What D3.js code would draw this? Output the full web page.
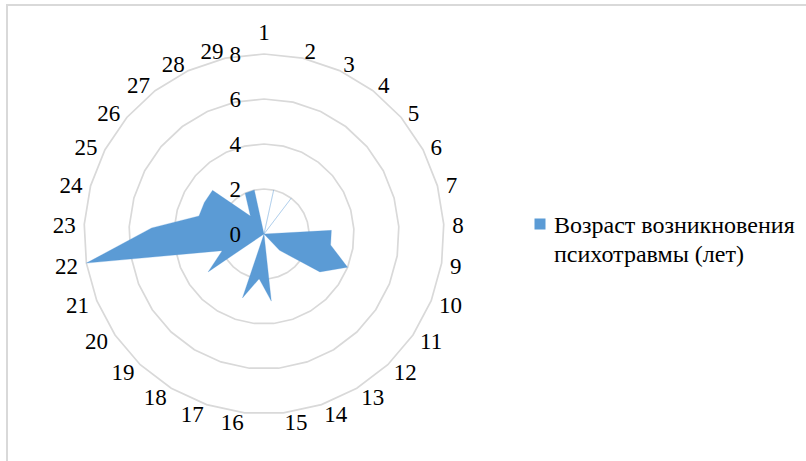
<!DOCTYPE html>
<html>
<head>
<meta charset="utf-8">
<script src="https://cdn.jsdelivr.net/npm/d3@7"></script>
<style>
  html, body { margin: 0; padding: 0; background: #fff; }
  svg { display: block; }
</style>
</head>
<body>
<svg id="chart" width="806" height="461" font-family="'Liberation Serif', 'Times New Roman', Tinos, 'DejaVu Serif', serif"></svg>
<script>
// Radar chart: age at which the psychological trauma occurred, per respondent
const categories = ["1","2","3","4","5","6","7","8","9","10","11","12","13","14","15",
                    "16","17","18","19","20","21","22","23","24","25","26","27","28","29"];
const values = [0,2,0,2,0,0,0,3,3,4,3,1,0,0,3,2,3,0,0,3,2,8,5,3,3,3,1,2,2];
const radialTicks = [0,2,4,6,8];
const legendLines = ["Возраст возникновения", "психотравмы (лет)"];

const svg = d3.select("#chart");
const W = 806, H = 461;
const cx = 264, cy = 234, R = 180;
const fontSize = 23;
const serif = "'Liberation Serif', 'Times New Roman', Tinos, 'DejaVu Serif', serif";
const fillColor = "#5B9BD5";
const gridColor = "#D9D9D9";

// Outer chart frame (runs off the right and bottom edges)
svg.append("rect")
  .attr("x", 7).attr("y", 5)
  .attr("width", W + 20).attr("height", H + 20)
  .attr("fill", "none").attr("stroke", gridColor).attr("stroke-width", 2);

const r = d3.scaleLinear().domain([0, 8]).range([0, R]);
const step = 2 * Math.PI / categories.length;
const ang = c => categories.indexOf(c) * step;

const g = svg.append("g").attr("transform", `translate(${cx},${cy})`);

// Polygonal gridlines, one per radial tick
const ringLine = d3.lineRadial().curve(d3.curveLinearClosed)
  .angle(c => ang(c));
radialTicks.filter(t => t > 0).forEach(t => {
  g.append("path")
    .attr("d", ringLine.radius(() => r(t))(categories))
    .attr("fill", "none")
    .attr("stroke", gridColor)
    .attr("stroke-width", 1.7);
});

// Filled series area
const area = d3.lineRadial()
  .curve(d3.curveLinearClosed)
  .angle((d, i) => i * step)
  .radius(d => r(d));
g.append("path")
  .attr("d", area(values))
  .attr("fill", fillColor)
  .attr("stroke", fillColor)
  .attr("stroke-width", 0.6)
  .attr("stroke-opacity", 0.45);

// Radial tick labels along the vertical axis
g.selectAll("text.tick")
  .data(radialTicks)
  .join("text")
  .attr("class", "tick")
  .attr("font-family", serif)
  .attr("x", -23)
  .attr("y", d => -r(d) + 0.33 * fontSize)
  .attr("text-anchor", "end")
  .attr("font-size", fontSize)
  .attr("fill", "#000")
  .text(d => d);

// Category labels around the outside
const labelR = 188.5, labelCy = 1.5;
g.selectAll("text.cat")
  .data(categories)
  .join("text")
  .attr("class", "cat")
  .attr("font-family", serif)
  .attr("font-size", fontSize)
  .attr("fill", "#000")
  .each(function(c) {
    const a = ang(c);
    const s = Math.sin(a), co = Math.cos(a);
    const x = labelR * s;
    const y = labelCy - labelR * co;
    const t = d3.select(this);
    if (Math.abs(s) < 0.01) {
      t.attr("text-anchor", "middle").attr("x", x).attr("y", co > 0 ? y - 7 : y + fontSize * 0.9);
    } else {
      t.attr("text-anchor", s > 0 ? "start" : "end")
       .attr("x", x)
       .attr("y", y + 0.33 * fontSize);
    }
  })
  .text(c => c);

// Legend
const legend = svg.append("g").attr("transform", "translate(534.5,218.5)");
legend.append("rect")
  .attr("width", 11).attr("height", 11)
  .attr("fill", fillColor);
legend.selectAll("text")
  .data(legendLines)
  .join("text")
  .attr("font-family", serif)
  .attr("fill", "#000")
  .attr("x", 19.5)
  .attr("y", (d, i) => 14.5 + i * 29)
  .attr("font-size", 24)
  .text(d => d);
</script>
</body>
</html>
